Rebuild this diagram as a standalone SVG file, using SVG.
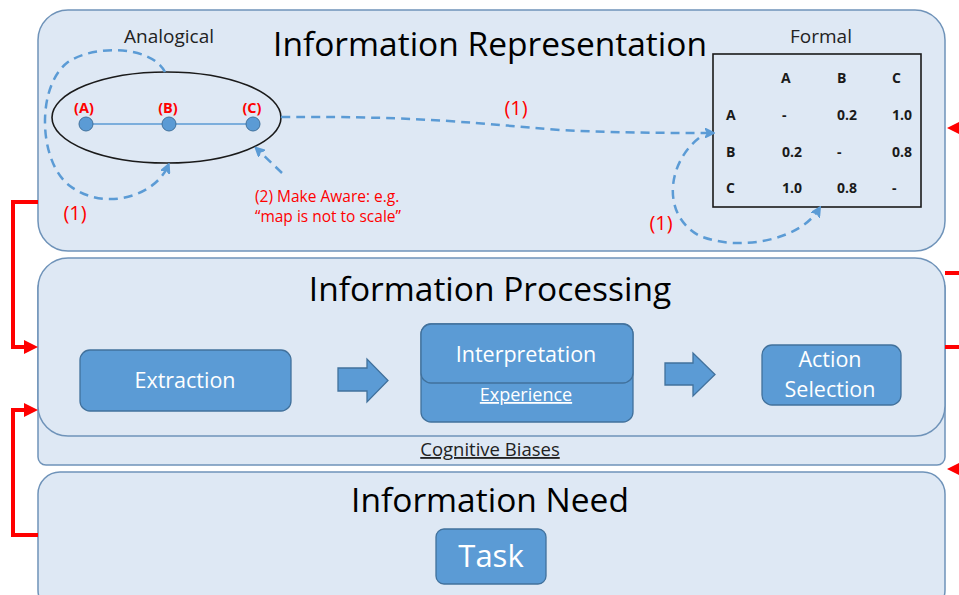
<svg xmlns="http://www.w3.org/2000/svg" width="959" height="595" viewBox="0 0 959 595">
<defs>
<style>
.panel{fill:#dee8f4;stroke:#6f93b9;stroke-width:1.5}
.box{fill:#5b9bd5;stroke:#41719c;stroke-width:1.3}
.title{font-family:"Open Sans","Noto Sans",sans-serif;font-size:33.5px;fill:#000;text-anchor:middle}
.wt{font-family:"Open Sans","Noto Sans",sans-serif;font-size:21.5px;fill:#fff;text-anchor:middle}
.sm{font-family:"Open Sans","Noto Sans",sans-serif;font-size:19px;fill:#222;text-anchor:middle}
.red{font-family:"Open Sans","Noto Sans",sans-serif;fill:#ff0000}
.mx{font-family:"Open Sans","Noto Sans",sans-serif;font-size:14px;font-weight:bold;fill:#1a1a1a}
.dash{fill:none;stroke:#5b9bd5;stroke-width:2.5;stroke-dasharray:9 6}
.rl{fill:none;stroke:#ff0000;stroke-width:4}
</style>
<marker id="ba" markerWidth="10" markerHeight="10" refX="7" refY="5" orient="auto" markerUnits="userSpaceOnUse">
<path d="M0,0 L10,5 L0,10 L3,5 Z" fill="#5b9bd5" transform="scale(1.3) translate(-1.5,-1.15)"/>
</marker>
</defs>

<!-- Information Representation -->
<g id="representation">
<rect class="panel" x="38" y="10" width="907" height="241" rx="30"/>
<text class="title" x="490" y="56">Information Representation</text>
<text class="sm" x="169" y="43">Analogical</text>
<text class="sm" x="821" y="43">Formal</text>
</g>

<g id="analogical">
<ellipse cx="166.5" cy="117.5" rx="114.5" ry="45.5" fill="none" stroke="#1a1a1a" stroke-width="1.6"/>
<line x1="86" y1="124" x2="253" y2="124" stroke="#5b9bd5" stroke-width="1.5"/>
<circle cx="86" cy="124" r="7" fill="#5b9bd5" stroke="#41719c"/>
<circle cx="169" cy="124" r="7" fill="#5b9bd5" stroke="#41719c"/>
<circle cx="253" cy="124" r="7" fill="#5b9bd5" stroke="#41719c"/>
<text class="red" x="84" y="113" font-size="14.5" font-weight="bold" text-anchor="middle">(A)</text>
<text class="red" x="168" y="113" font-size="14.5" font-weight="bold" text-anchor="middle">(B)</text>
<text class="red" x="252" y="113" font-size="14.5" font-weight="bold" text-anchor="middle">(C)</text>
</g>

<g id="formal">
<rect x="713" y="54" width="208" height="153" fill="none" stroke="#1a1a1a" stroke-width="1.6"/>
<text class="mx" x="781" y="83">A</text>
<text class="mx" x="837" y="83">B</text>
<text class="mx" x="892" y="83">C</text>
<text class="mx" x="726" y="120">A</text>
<text class="mx" x="782" y="120">-</text>
<text class="mx" x="837" y="120">0.2</text>
<text class="mx" x="892" y="120">1.0</text>
<text class="mx" x="726" y="157">B</text>
<text class="mx" x="782" y="157">0.2</text>
<text class="mx" x="837" y="157">-</text>
<text class="mx" x="892" y="157">0.8</text>
<text class="mx" x="726" y="193">C</text>
<text class="mx" x="782" y="193">1.0</text>
<text class="mx" x="837" y="193">0.8</text>
<text class="mx" x="892" y="193">-</text>
</g>

<!-- Cognitive Biases + Processing -->
<g id="cognitive-biases">
<rect class="panel" x="38" y="280" width="907" height="185" rx="8"/>
<text class="sm" x="490" y="456" style="font-size:18.5px" text-decoration="underline">Cognitive Biases</text>
</g>

<g id="processing">
<rect class="panel" x="38" y="258" width="907" height="178" rx="30"/>
<text class="title" x="490" y="301">Information Processing</text>
</g>

<g id="extraction">
<rect class="box" x="80" y="350" width="211" height="61" rx="10"/>
<text class="wt" x="185" y="388">Extraction</text>
</g>

<g id="interpretation">
<rect class="box" x="421" y="324" width="212" height="98" rx="10"/>
<text class="wt" x="526" y="401" style="font-size:18px" text-decoration="underline">Experience</text>
<rect class="box" x="421" y="324" width="212" height="59" rx="10"/>
<text class="wt" x="526" y="362">Interpretation</text>
</g>

<g id="action-selection">
<rect class="box" x="762" y="345" width="139" height="60" rx="10"/>
<text class="wt" x="830" y="367">Action</text>
<text class="wt" x="830" y="397">Selection</text>
</g>

<!-- Need -->
<g id="need">
<rect class="panel" x="38" y="472" width="907" height="140" rx="22"/>
<text class="title" x="490" y="512">Information Need</text>
</g>
<g id="task">
<rect class="box" x="436" y="529" width="110" height="55" rx="8"/>
<text class="wt" x="491" y="567" style="font-size:31px">Task</text>
</g>

<!-- connectors -->
<g id="connectors">
<!-- block arrows -->
<path class="box" d="M338,368 L367,368 L367,359 L388,380.5 L367,402 L367,391 L338,391 Z"/>
<path class="box" d="M665,363 L693,363 L693,353 L715,374.5 L693,396 L693,385 L665,385 Z"/>

<!-- dashed analogical loop -->
<path class="dash" marker-end="url(#ba)" d="M165,72 C152,46 95,44 68,62 C36,86 38,162 70,186 C105,212 155,196 168,166"/>
<text class="red" x="75" y="220" font-size="20" text-anchor="middle">(1)</text>

<!-- dashed to formal -->
<path class="dash" marker-end="url(#ba)" d="M281,117 C430,116 480,124 560,130 C620,133 670,133 712,133"/>
<text class="red" x="516" y="115" font-size="20" text-anchor="middle">(1)</text>

<!-- dashed formal loop -->
<path class="dash" marker-end="url(#ba)" d="M699,138 C668,162 660,215 700,236 C740,252 800,240 819,209"/>
<text class="red" x="661" y="230" font-size="20" text-anchor="middle">(1)</text>

<!-- make aware -->
<path class="dash" marker-end="url(#ba)" d="M282,173 L257,149"/>
<text class="red" x="255" y="202" font-size="15.5">(2) Make Aware: e.g.</text>
<text class="red" x="255" y="222" font-size="15.5">“map is not to scale”</text>

<!-- red lines left -->
<path class="rl" d="M38,202 L13,202 L13,347 L26,347"/>
<path d="M24,340 L38,347 L24,354 Z" fill="#ff0000"/>
<path class="rl" d="M38,535 L13,535 L13,410 L26,410"/>
<path d="M24,403 L38,410 L24,417 Z" fill="#ff0000"/>

<!-- red lines right -->
<path d="M961,121 L947,128 L961,135 Z" fill="#ff0000"/>
<line x1="945" y1="273" x2="959" y2="273" stroke="#ff0000" stroke-width="4"/>
<line x1="945" y1="347" x2="959" y2="347" stroke="#ff0000" stroke-width="4"/>
<path d="M961,462 L947,469 L961,476 Z" fill="#ff0000"/>
</g>
</svg>
